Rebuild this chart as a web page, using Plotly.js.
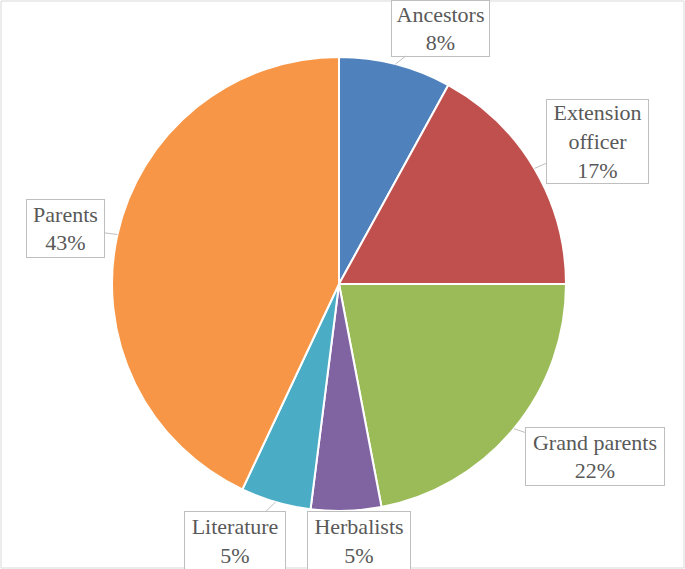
<!DOCTYPE html>
<html>
<head>
<meta charset="utf-8">
<script src="https://cdn.plot.ly/plotly-3.0.1.min.js"></script>
<style>
  body { margin: 0; background: #fff; }
  #chart { width: 685px; height: 569px; }
</style>
</head>
<body>
<div id="chart"></div>
<script>
// data
const categories = ['Ancestors', 'Extension officer', 'Grand parents', 'Herbalists', 'Literature', 'Parents'];
const shares = [8, 17, 22, 5, 5, 43];
const labelText = ['Ancestors', 'Extension<br>officer', 'Grand parents', 'Herbalists', 'Literature', 'Parents'];
const sliceColors = ['#4F81BD', '#C0504D', '#9BBB59', '#8064A2', '#4BACC6', '#F79646'];

// callout box placement (px, centre) and size
const boxes = [
  { cx: 441, cy: 28, w: 97, h: 55, arrow: true },
  { cx: 597, cy: 141, w: 101, h: 83, arrow: true },
  { cx: 595, cy: 456, w: 138, h: 57, arrow: true },
  { cx: 359, cy: 541, w: 102, h: 58, arrow: false },
  { cx: 235, cy: 541, w: 100, h: 58, arrow: true },
  { cx: 65, cy: 228, w: 77, h: 57, arrow: true }
];

const W = 685, H = 569;
const dom = { x: [112 / W, 566 / W], y: [58 / H, 512 / H] };
const pcx = (dom.x[0] + dom.x[1]) / 2 * W;
const pcy = H - (dom.y[0] + dom.y[1]) / 2 * H;
const rad = (dom.x[1] - dom.x[0]) * W / 2;

const total = shares.reduce((a, b) => a + b, 0);
let cum = 0;
const annotations = shares.map((v, i) => {
  const mid = (cum + v / 2) / total * 2 * Math.PI;
  cum += v;
  const tx = pcx + rad * Math.sin(mid);
  const ty = pcy - rad * Math.cos(mid);
  const b = boxes[i];
  const ann = {
    text: labelText[i] + '<br>' + v + '%',
    font: { size: 22, color: '#595959' },
    bordercolor: '#bfbfbf', borderwidth: 1, borderpad: 0, bgcolor: '#ffffff',
    width: b.w, height: b.h, align: 'center', valign: 'middle',
    xanchor: 'center', yanchor: 'middle',
    xref: 'paper', yref: 'paper'
  };
  if (b.arrow) {
    Object.assign(ann, {
      x: tx / W, y: 1 - ty / H,
      showarrow: true, arrowhead: 0, arrowwidth: 1, arrowcolor: '#bfbfbf',
      standoff: 0, axref: 'pixel', ayref: 'pixel',
      ax: b.cx - tx, ay: b.cy - ty
    });
  } else {
    Object.assign(ann, { x: b.cx / W, y: 1 - b.cy / H, showarrow: false });
  }
  return ann;
});

const trace = {
  type: 'pie',
  labels: categories,
  values: shares,
  sort: false,
  direction: 'clockwise',
  rotation: 0,
  textinfo: 'none',
  hoverinfo: 'label+percent',
  marker: { colors: sliceColors, line: { color: '#ffffff', width: 2 } },
  domain: dom,
  showlegend: false
};

const layout = {
  width: W, height: H,
  margin: { l: 0, r: 0, t: 0, b: 0 },
  font: { family: 'Liberation Serif', size: 22, color: '#595959' },
  paper_bgcolor: '#ffffff',
  showlegend: false,
  annotations: annotations,
  shapes: [{
    type: 'rect', xref: 'paper', yref: 'paper',
    x0: 1 / W, x1: 1 - 1 / W, y0: 1 / H, y1: 1 - 1 / H,
    line: { color: '#d9d9d9', width: 1 }
  }]
};

Plotly.newPlot('chart', [trace], layout, { displayModeBar: false, staticPlot: true });
</script>
</body>
</html>
